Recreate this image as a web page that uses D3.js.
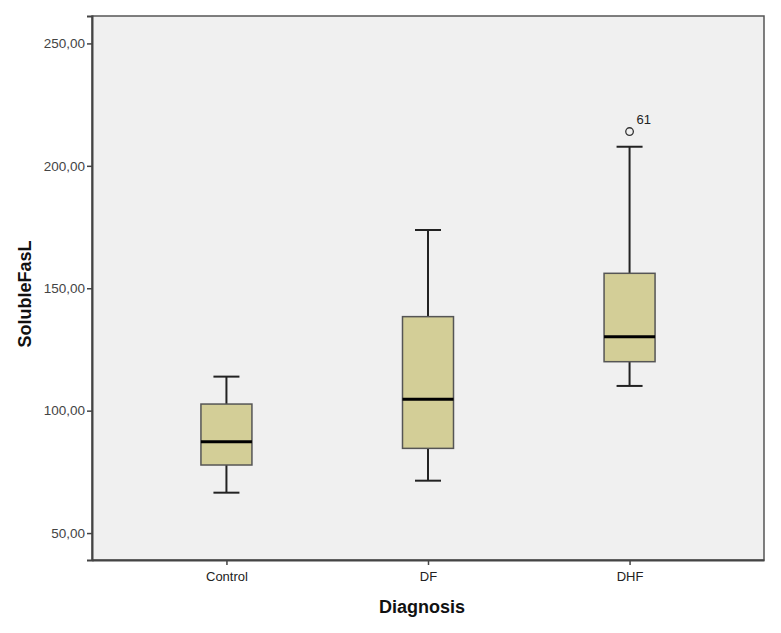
<!DOCTYPE html>
<html>
<head>
<meta charset="utf-8">
<script src="https://cdn.jsdelivr.net/npm/d3@7"></script>
<style>
  body { margin: 0; background: #fff; }
  svg text { font-family: Arial, "Liberation Sans", sans-serif; }
</style>
</head>
<body>
<div id="chart"></div>
<script>
// Box summaries
const groups = ["Control", "DF", "DHF"];
const whiskerLow = [66.5, 71.4, 110.1];
const q1 = [77.8, 84.6, 120.0];
const medians = [87.3, 104.7, 130.2];
const q3 = [102.7, 138.4, 156.1];
const whiskerHigh = [113.9, 173.8, 207.8];
const outliers = [{ group: "DHF", value: 214.0, label: "61" }];
const yTicks = [50, 100, 150, 200, 250];

const width = 781, height = 633;
const plot = { left: 92, top: 16, right: 764, bottom: 560 };

const svg = d3.select("#chart").append("svg")
    .attr("width", width)
    .attr("height", height);

const x = d3.scalePoint()
    .domain(groups)
    .range([plot.left, plot.right])
    .padding(0.667);

const y = d3.scaleLinear()
    .domain([39, 261.2])
    .range([plot.bottom, plot.top]);

// plot background
svg.append("rect")
    .attr("x", plot.left)
    .attr("y", plot.top)
    .attr("width", plot.right - plot.left)
    .attr("height", plot.bottom - plot.top)
    .attr("fill", "#f0f0f0")
    .attr("stroke", "#555")
    .attr("stroke-width", 1.5);

// axes
const yAxis = svg.append("g")
    .attr("transform", `translate(${plot.left},0)`)
    .call(d3.axisLeft(y).tickValues(yTicks).tickSize(5)
        .tickFormat(d => d3.format(".2f")(d).replace(".", ",")));
yAxis.select(".domain").attr("stroke", "#444").attr("stroke-width", 2);
yAxis.selectAll(".tick line").attr("stroke", "#444").attr("stroke-width", 1.5);
yAxis.selectAll(".tick text").attr("font-size", 13.5).attr("fill", "#444").attr("x", -7);

const xAxis = svg.append("g")
    .attr("transform", `translate(0,${plot.bottom})`)
    .call(d3.axisBottom(x).tickSize(5).tickSizeOuter(0));
xAxis.select(".domain").attr("stroke", "#444").attr("stroke-width", 2);
xAxis.selectAll(".tick line").attr("stroke", "#444").attr("stroke-width", 1.5);
xAxis.selectAll(".tick text").attr("font-size", 13).attr("fill", "#222").attr("y", 12);

// axis titles
svg.append("text")
    .attr("x", (plot.left + plot.right) / 2 - 6)
    .attr("y", 613)
    .attr("text-anchor", "middle")
    .attr("font-size", 18)
    .attr("font-weight", "bold")
    .attr("fill", "#111")
    .text("Diagnosis");

svg.append("text")
    .attr("transform", `translate(31,294) rotate(-90)`)
    .attr("text-anchor", "middle")
    .attr("font-size", 18)
    .attr("font-weight", "bold")
    .attr("fill", "#111")
    .text("SolubleFasL");

// boxes
const boxW = 51, capW = 26;
const boxes = groups.map((g, i) => ({
    group: g, lo: whiskerLow[i], q1: q1[i], med: medians[i], q3: q3[i], hi: whiskerHigh[i]
}));

const bg = svg.selectAll(".box").data(boxes).enter().append("g").attr("class", "box");

bg.append("line")
    .attr("x1", d => x(d.group)).attr("x2", d => x(d.group))
    .attr("y1", d => y(d.hi)).attr("y2", d => y(d.q3))
    .attr("stroke", "#222").attr("stroke-width", 2);
bg.append("line")
    .attr("x1", d => x(d.group)).attr("x2", d => x(d.group))
    .attr("y1", d => y(d.q1)).attr("y2", d => y(d.lo))
    .attr("stroke", "#222").attr("stroke-width", 2);
bg.append("line")
    .attr("x1", d => x(d.group) - capW / 2).attr("x2", d => x(d.group) + capW / 2)
    .attr("y1", d => y(d.hi)).attr("y2", d => y(d.hi))
    .attr("stroke", "#222").attr("stroke-width", 2);
bg.append("line")
    .attr("x1", d => x(d.group) - capW / 2).attr("x2", d => x(d.group) + capW / 2)
    .attr("y1", d => y(d.lo)).attr("y2", d => y(d.lo))
    .attr("stroke", "#222").attr("stroke-width", 2);
bg.append("rect")
    .attr("x", d => x(d.group) - boxW / 2)
    .attr("y", d => y(d.q3))
    .attr("width", boxW)
    .attr("height", d => y(d.q1) - y(d.q3))
    .attr("fill", "#d3ce97")
    .attr("stroke", "#555")
    .attr("stroke-width", 1.5);
bg.append("line")
    .attr("x1", d => x(d.group) - boxW / 2).attr("x2", d => x(d.group) + boxW / 2)
    .attr("y1", d => y(d.med)).attr("y2", d => y(d.med))
    .attr("stroke", "#000").attr("stroke-width", 3);

// outliers
svg.selectAll(".outlier").data(outliers).enter().append("circle")
    .attr("cx", d => x(d.group))
    .attr("cy", d => y(d.value))
    .attr("r", 3.8)
    .attr("fill", "none")
    .attr("stroke", "#333")
    .attr("stroke-width", 1.3);
svg.selectAll(".outlier-label").data(outliers).enter().append("text")
    .attr("x", d => x(d.group) + 7)
    .attr("y", d => y(d.value) - 8)
    .attr("font-size", 13)
    .attr("fill", "#222")
    .text(d => d.label);
</script>
</body>
</html>
